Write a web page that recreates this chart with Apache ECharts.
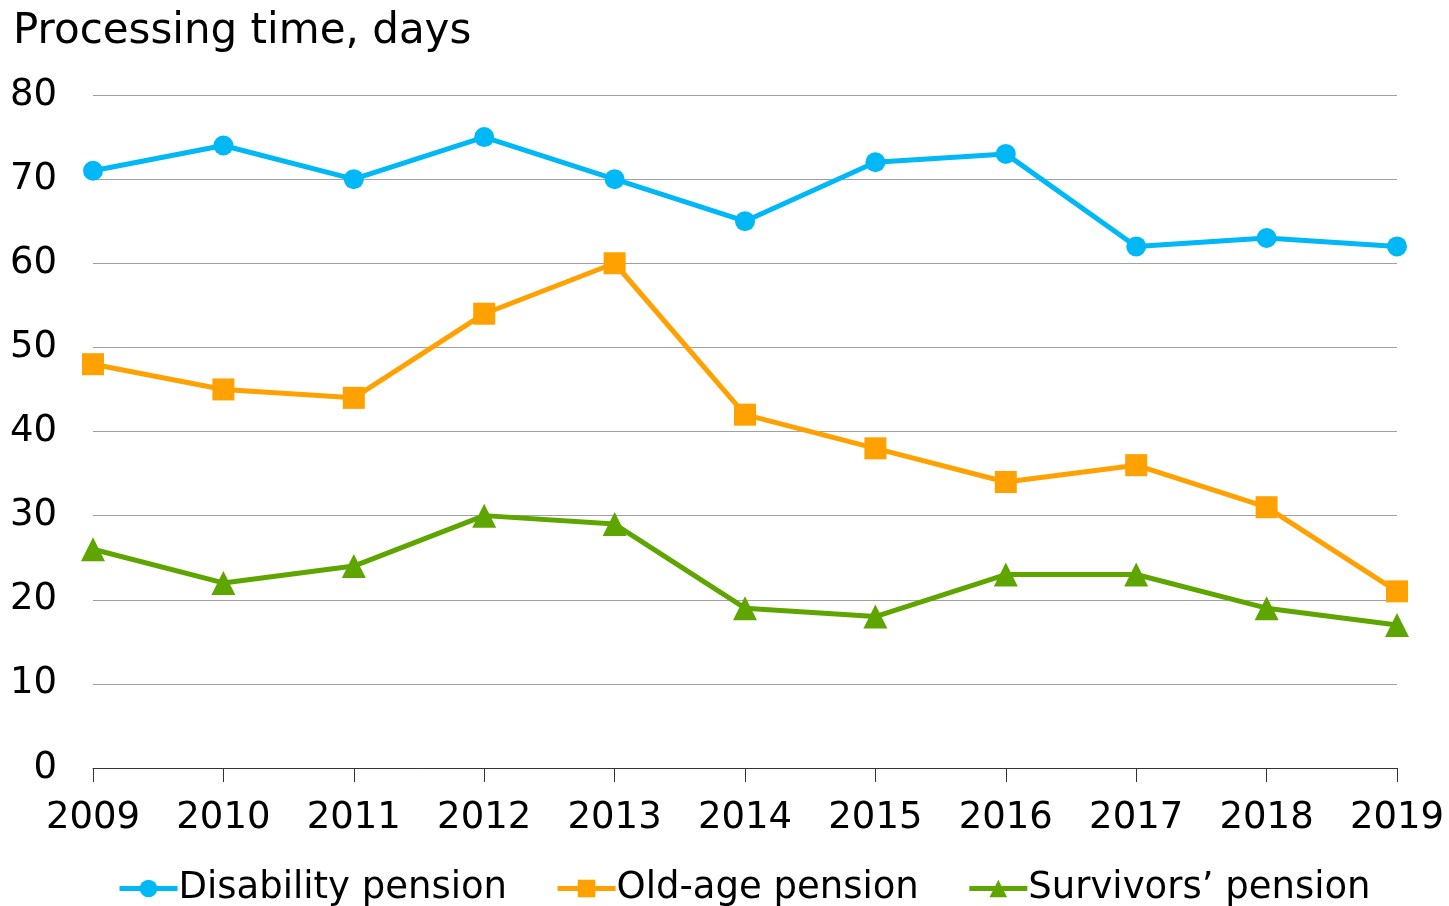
<!DOCTYPE html>
<html>
<head>
<meta charset="utf-8">
<script src="https://cdn.jsdelivr.net/npm/echarts@6/dist/echarts.min.js"></script>
<style>
  html, body { margin: 0; padding: 0; background: #fff; }
  #chart { width: 1449px; height: 906px; }
</style>
</head>
<body>
<div id="chart"></div>
<script>
var years = ["2009", "2010", "2011", "2012", "2013", "2014", "2015", "2016", "2017", "2018", "2019"];
var disability = [71, 74, 70, 75, 70, 65, 72, 73, 62, 63, 62];
var oldAge = [48, 45, 44, 54, 60, 42, 38, 34, 36, 31, 21];
var survivors = [26, 22, 24, 30, 29, 19, 18, 23, 23, 19, 17];
var seriesNames = ["Disability pension", "Old-age pension", "Survivors\u2019 pension"];

var font = "Verdana, 'DejaVu Sans', sans-serif";

function makeLine(name, data, color, symbol, size) {
  return {
    name: name,
    type: "line",
    data: data,
    symbol: symbol,
    symbolSize: size,
    showSymbol: true,
    lineStyle: { color: color, width: 5 },
    itemStyle: { color: color },
    animation: false
  };
}

var myChart = echarts.init(document.getElementById("chart"));
myChart.setOption({
  animation: false,
  title: {
    text: "Processing time, days",
    left: 8,
    top: 6,
    textStyle: { fontFamily: font, fontSize: 42, fontWeight: "normal", color: "#000" }
  },
  legend: {
    bottom: -6,
    left: 112,
    itemWidth: 58,
    itemHeight: 22,
    itemGap: 48,
    lineStyle: { width: 5 },
    textStyle: { fontFamily: font, fontSize: 37, color: "#000", padding: [0, 0, 0, -4] },
    data: seriesNames
  },
  grid: { left: 93, right: 52, top: 95, bottom: 138 },
  xAxis: {
    type: "category",
    data: years,
    boundaryGap: false,
    axisLine: { lineStyle: { color: "#333", width: 1 } },
    axisTick: { length: 14, lineStyle: { color: "#333" } },
    axisLabel: { fontFamily: font, fontSize: 37, color: "#000", margin: 32 }
  },
  yAxis: {
    type: "value",
    min: 0,
    max: 80,
    interval: 10,
    axisLine: { show: false },
    axisTick: { show: false },
    splitLine: { lineStyle: { color: "#a0a0a0", width: 1 } },
    axisLabel: { fontFamily: font, fontSize: 37, color: "#000", margin: 36 }
  },
  series: [
    makeLine(seriesNames[0], disability, "#00b8f5", "circle", 20),
    makeLine(seriesNames[1], oldAge, "#ffa100", "rect", 22),
    makeLine(seriesNames[2], survivors, "#5ea500", "triangle", 24)
  ]
});
</script>
</body>
</html>
